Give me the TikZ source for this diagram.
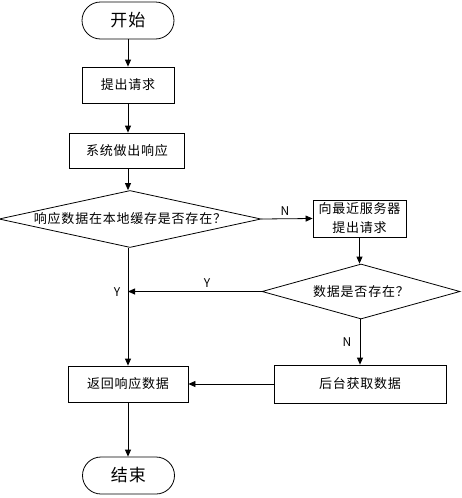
\documentclass[tikz,border=0pt]{standalone}
\usepackage{fontspec}
\setmainfont[LetterSpace=6]{Noto Sans CJK SC}
\usetikzlibrary{shapes.geometric,shapes.misc,arrows.meta}
\begin{document}
\begin{tikzpicture}[x=1pt,y=-1pt,
  line width=0.8pt,
  term/.style={draw, rounded rectangle, minimum width=92pt, minimum height=37pt, inner sep=0pt, font=\fontsize{17}{20}\selectfont},
  proc/.style={draw, rectangle, inner sep=0pt, align=center, font=\fontsize{13}{19}\selectfont},
  dec/.style={draw, diamond, inner sep=0pt, font=\fontsize{13}{16}\selectfont},
  arr/.style={-{Triangle[length=7pt,width=6pt]}},
  lbl/.style={font=\fontsize{12}{14}\selectfont, inner sep=0pt}
]
\useasboundingbox (0,0) rectangle (461,498);
\node[term] (start) at (128,20.5) {开始};
\node[proc, minimum width=92pt, minimum height=36pt] (req) at (128,85) {提出请求};
\node[proc, minimum width=115pt, minimum height=35pt] (resp) at (127,150.5) {系统做出响应};
\node[dec, minimum width=262pt, minimum height=57pt, aspect=4.6] (d1) at (130,219) {响应数据在本地缓存是否存在？};
\node[proc, minimum width=93pt, minimum height=37pt] (srv) at (359.5,218.5) {向最近服务器\\提出请求};
\node[dec, minimum width=198pt, minimum height=55pt, aspect=3.6] (d2) at (361,291.5) {数据是否存在？};
\node[proc, minimum width=172pt, minimum height=38pt] (back) at (360,384) {后台获取数据};
\node[proc, minimum width=120pt, minimum height=36pt] (ret) at (128,384) {返回响应数据};
\node[term] (end) at (128.5,475.5) {结束};
\coordinate (yj) at (ret.north |- d2.west);

\draw[arr] (start.south) -- (req.north);
\draw[arr] (req.south) -- (req.south |- resp.north);
\draw[arr] (req.south |- resp.south) -- (req.south |- d1.north);
\draw[arr] (ret.north |- d1.south) -- (ret.north);
\draw[arr] (d1.east) -- (srv.west);
\draw[arr] (srv.south) -- (srv.south |- d2.north);
\draw[arr] (d2.west) -- (yj);
\draw[arr] (back.north |- d2.south) -- (back.north);
\draw[arr] (back.west) -- (ret.east);
\draw[arr] (ret.south) -- (ret.south |- end.north);

\node[lbl] (lN1) at (285,211) {N};
\node[lbl] (lY1) at (207,283) {Y};
\node[lbl] (lY2) at (117,292) {Y};
\node[lbl] (lN2) at (347,342) {N};
\end{tikzpicture}
\end{document}
